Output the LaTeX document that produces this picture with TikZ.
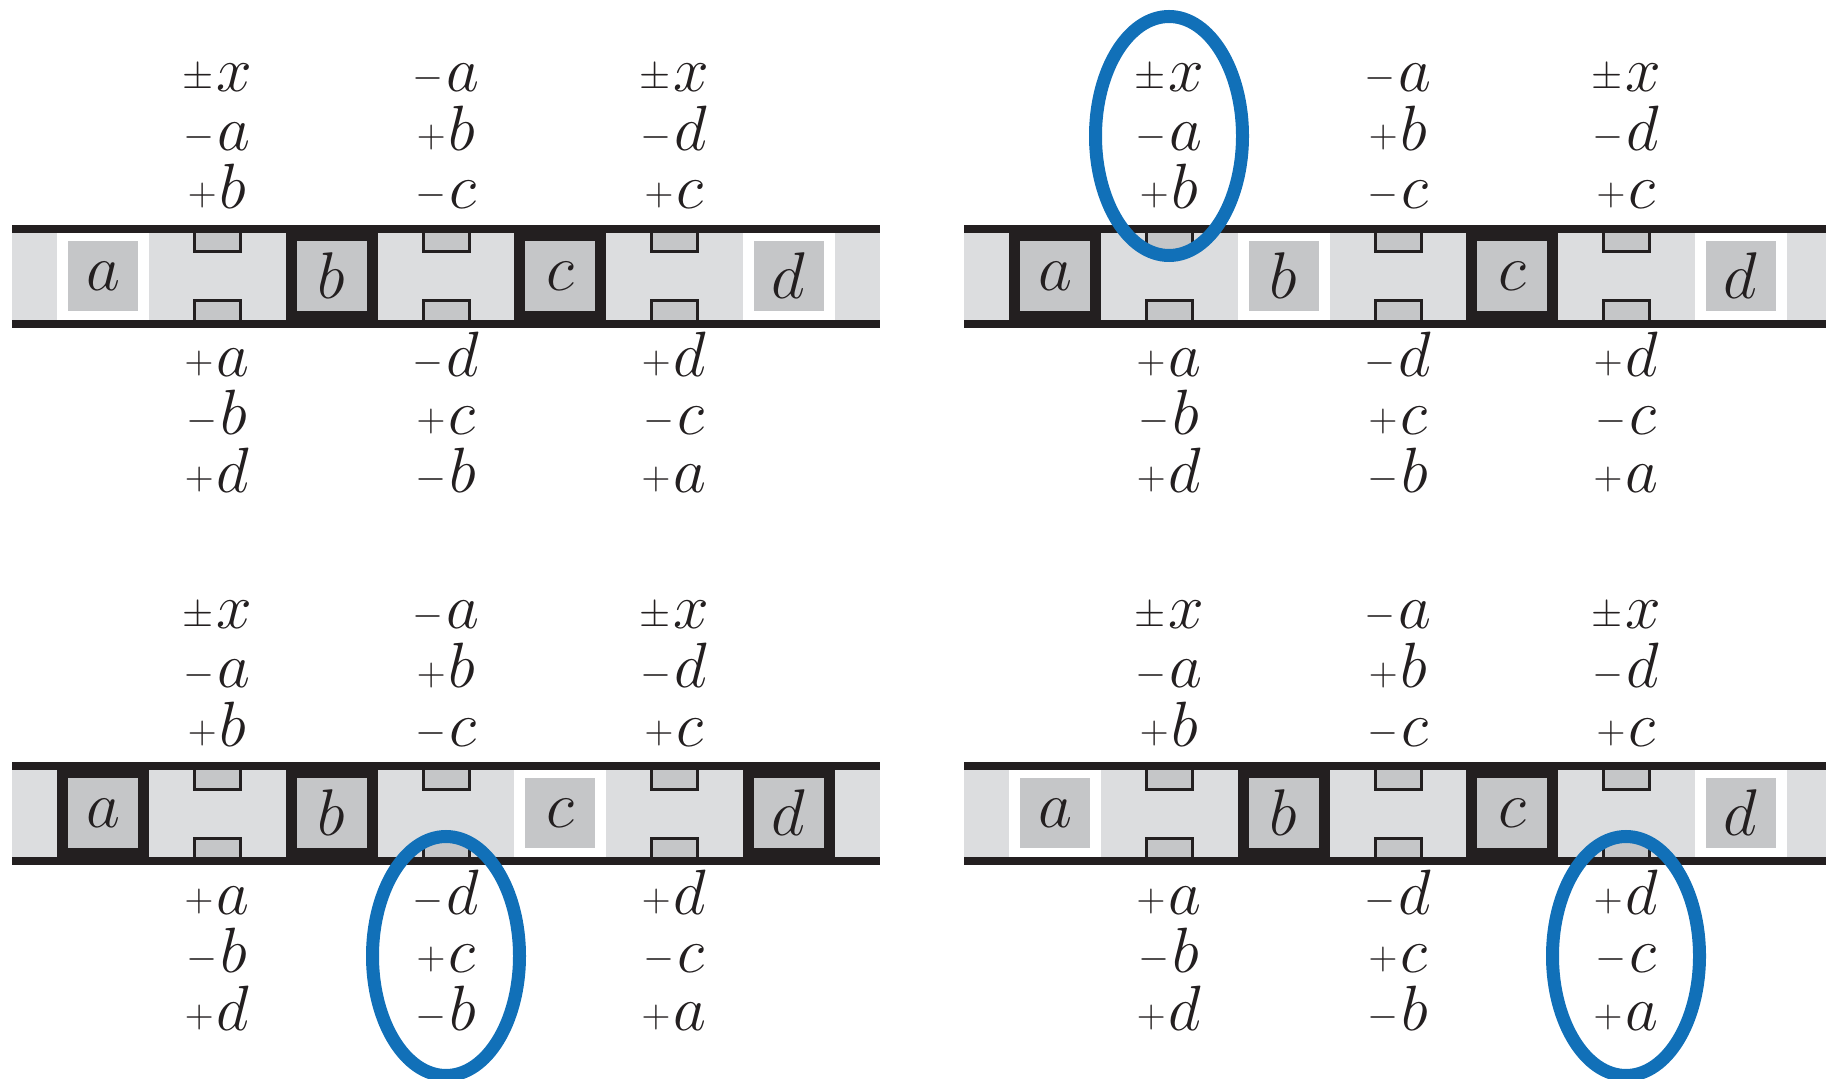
\RequirePackage{fix-cm}
\documentclass[tikz,border=0pt]{standalone}
\usetikzlibrary{shapes.geometric}
\definecolor{bandgray}{RGB}{220,221,223}
\definecolor{sqgray}{RGB}{197,198,200}
\definecolor{ink}{RGB}{35,31,32}
\definecolor{hlblue}{RGB}{17,112,184}
\newcommand{\lab}[2]{\raisebox{1.5pt}{\fontsize{20}{20}\selectfont$#1$}\kern1.5pt\fontsize{32}{32}\selectfont$#2$}
\tikzset{
  lbl/.style={inner sep=0pt, anchor=base, text=ink},
  cellletter/.style={inner sep=0pt, text=ink, font=\fontsize{33}{33}\selectfont},
  bandline/.style={draw=ink, line width=4pt},
  notchbox/.style={fill=sqgray, draw=ink, line width=1.5pt},
  hl/.style={draw=hlblue, line width=6.5pt, ellipse, inner sep=0pt,
    minimum width=73.5pt, minimum height=119.5pt}
}
% #1 name, #2 dx, #3 dy, #4..#7 frame colours of a,b,c,d
\newcommand{\panel}[7]{%
\begin{scope}[shift={(#2,#3)}]
  \fill[bandgray] (12,229) rectangle (880,324);
  \foreach \n/\cx/\fr in {a/103/#4, b/331.5/#5, c/560/#6, d/788.5/#7}{
    \fill[\fr] (\cx-46,233) rectangle (\cx+46,320);
    \fill[sqgray] (\cx-35,241) rectangle (\cx+35,311);
    \node[cellletter] (#1-\n) at (\cx,276) {$\n$};
  }
  \foreach \nx in {217,446,674}{
    \draw[notchbox] (\nx-23,229) rectangle (\nx+23,252);
    \draw[notchbox] (\nx-23,324) rectangle (\nx+23,301);
  }
  \draw[bandline] (12,229) -- (880,229);
  \draw[bandline] (12,324) -- (880,324);
  \foreach \nm/\lx/\ly/\s/\l in {
    t11/217/92/\pm/x, t12/217/151/-/a, t13/217/209/+/b,
    t21/446/92/-/a,   t22/446/151/+/b, t23/446/209/-/c,
    t31/674/92/\pm/x, t32/674/151/-/d, t33/674/209/+/c,
    b11/217/377/+/a,  b12/217/435/-/b, b13/217/493/+/d,
    b21/446/377/-/d,  b22/446/435/+/c, b23/446/493/-/b,
    b31/674/377/+/d,  b32/674/435/-/c, b33/674/493/+/a}{
    \node[lbl] (#1-\nm) at (\lx,\ly) {\lab{\s}{\l}};
  }
\end{scope}}
\begin{document}
\begin{tikzpicture}[x=0.5pt,y=-0.5pt]
  \useasboundingbox (0,0) rectangle (1826,1079);
  \clip (0,0) rectangle (1826,1079);
  \panel{tl}{0}{0}{white}{ink}{ink}{white}
  \panel{tr}{952}{0}{ink}{white}{ink}{white}
  \panel{bl}{0}{537}{ink}{ink}{white}{ink}
  \panel{br}{952}{537}{white}{ink}{ink}{white}
  \node[hl] (e1) at (1169,136) {};
  \node[hl] (e2) at (446,956) {};
  \node[hl] (e3) at (1626,956) {};
\end{tikzpicture}
\end{document}
